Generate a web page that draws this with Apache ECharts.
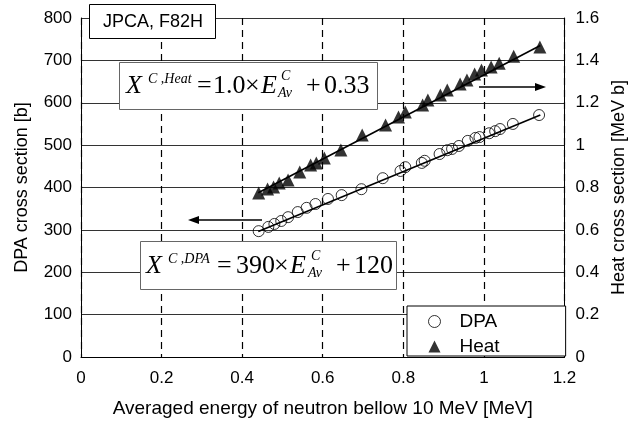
<!DOCTYPE html>
<html>
<head>
<meta charset="utf-8">
<script src="https://cdn.jsdelivr.net/npm/echarts@6/dist/echarts.min.js"></script>
<style>
  html, body { margin: 0; padding: 0; background: #fff; }
  #main { width: 636px; height: 423px; }
</style>
</head>
<body>
<div id="main"></div>
<script>
// values
var dpaEnergy = [0.441, 0.465, 0.480, 0.497, 0.514, 0.538, 0.560, 0.582, 0.613, 0.647, 0.696, 0.749, 0.793, 0.805,
                 0.846, 0.853, 0.890, 0.909, 0.921, 0.938, 0.960, 0.979, 0.989, 1.013, 1.028, 1.040, 1.072, 1.137];
var dpaValues = [297, 307, 314, 321, 330, 342, 352, 361, 373, 382, 396, 422, 439, 448,
                 458, 463, 479, 488, 491, 498, 510, 517, 519, 528, 533, 538, 550, 571];
var heatEnergy = [0.441, 0.463, 0.478, 0.492, 0.514, 0.543, 0.570, 0.584, 0.604, 0.645, 0.698, 0.756, 0.788,
                  0.805, 0.848, 0.861, 0.892, 0.909, 0.941, 0.958, 0.977, 0.994, 1.018, 1.038, 1.074, 1.139];
var heatValues = [0.774, 0.793, 0.802, 0.821, 0.835, 0.873, 0.906, 0.916, 0.939, 0.977, 1.048, 1.095, 1.133,
                  1.156, 1.189, 1.213, 1.236, 1.260, 1.288, 1.307, 1.336, 1.354, 1.369, 1.387, 1.420, 1.463];
// fitted lines (end points)
var dpaFit = [[0.44, 296], [1.14, 571]];
var heatFit = [[0.44, 0.775], [1.14, 1.47]];

var pair = function (xs, ys) {
  return xs.map(function (x, i) { return [x, ys[i]]; });
};

var sans = '"Liberation Sans", Arial, sans-serif';
var serif = '"Liberation Serif", "Times New Roman", serif';

function txt(x, y, s, size, italic) {
  return {
    type: 'text', x: x, y: y, z: 20,
    style: {
      text: s, fill: '#000',
      font: (italic ? 'italic ' : '') + size + 'px ' + serif,
      textAlign: 'left', textVerticalAlign: 'middle', align: 'left', verticalAlign: 'middle'
    }
  };
}

function box(x, y, w, h, stroke) {
  return {
    type: 'rect', z: 15,
    shape: { x: x, y: y, width: w, height: h },
    style: { fill: '#fff', stroke: stroke, lineWidth: 1 }
  };
}

function arrow(x1, x2, y) {
  var dir = x2 > x1 ? 1 : -1;
  return [
    { type: 'line', z: 20, shape: { x1: x1, y1: y, x2: x2 - dir * 8, y2: y }, style: { stroke: '#000', lineWidth: 1.5 } },
    { type: 'polygon', z: 20, shape: { points: [[x2, y], [x2 - dir * 11, y - 4], [x2 - dir * 11, y + 4]] }, style: { fill: '#000' } }
  ];
}

var graphics = [
  box(89.5, 4.5, 126, 34, '#000'),
  {
    type: 'text', x: 153, y: 22, z: 20,
    style: { text: 'JPCA, F82H', fill: '#000', font: '18px ' + sans,
             textAlign: 'center', textVerticalAlign: 'middle', align: 'center', verticalAlign: 'middle' }
  },
  // heat formula
  box(119.5, 62.5, 258, 47, '#666'),
  txt(126, 86, 'X', 26, true),
  txt(148, 79, 'C ,Heat', 14, true),
  txt(197, 86, '=', 26, false),
  txt(213, 86, '1.0', 26, false),
  txt(245, 86, '\u00d7', 26, false),
  txt(261, 86, 'E', 26, true),
  txt(281, 76, 'C', 14, true),
  txt(278, 93, 'Av', 14, true),
  txt(306, 86, '+', 26, false),
  txt(324, 86, '0.33', 26, false),
  // DPA formula
  box(140.5, 241.5, 256, 48, '#666'),
  txt(146, 266, 'X', 26, true),
  txt(168, 259, 'C ,DPA', 14, true),
  txt(217, 266, '=', 26, false),
  txt(236, 266, '390', 26, false),
  txt(274, 266, '\u00d7', 26, false),
  txt(290, 266, 'E', 26, true),
  txt(311, 256, 'C', 14, true),
  txt(308, 273, 'Av', 14, true),
  txt(336, 266, '+', 26, false),
  txt(354, 266, '120', 26, false)
].concat(arrow(262, 188, 220), arrow(479, 546, 87));

var chart = echarts.init(document.getElementById('main'));
chart.setOption({
  animation: false,
  backgroundColor: '#fff',
  textStyle: { fontFamily: sans },
  grid: { left: 81, right: 60, top: 18, bottom: 66 },
  legend: {
    orient: 'vertical', left: 407, top: 306,
    padding: [6, 66, 0, 21], itemGap: 6,
    itemWidth: 12, itemHeight: 12,
    backgroundColor: '#fff', borderColor: '#000', borderWidth: 1,
    textStyle: { fontSize: 19, color: '#000', lineHeight: 18, padding: [0, 0, 0, 14] },
    data: [
      { name: 'DPA', itemStyle: { color: '#fff', borderColor: '#000', borderWidth: 1 } },
      { name: 'Heat' }
    ],
    z: 20
  },
  xAxis: {
    type: 'value', min: 0, max: 1.2, interval: 0.2,
    name: 'Averaged energy of neutron bellow 10 MeV [MeV]',
    nameLocation: 'middle', nameGap: 42,
    nameTextStyle: { fontSize: 19, color: '#000' },
    axisLine: { lineStyle: { color: '#000', width: 1 } },
    axisTick: { show: false },
    axisLabel: { fontSize: 17, color: '#000', margin: 13 },
    splitLine: { show: true, lineStyle: { color: '#000', type: [7, 5], width: 1.2 } }
  },
  yAxis: [
    {
      type: 'value', min: 0, max: 800, interval: 100,
      name: 'DPA cross section [b]',
      nameLocation: 'middle', nameGap: 50,
      nameTextStyle: { fontSize: 18, color: '#000' },
      axisLine: { show: true, lineStyle: { color: '#000', width: 1 } },
      axisTick: { show: false },
      axisLabel: { fontSize: 17, color: '#000', margin: 9 },
      splitLine: { show: true, lineStyle: { color: '#333', width: 1 } }
    },
    {
      type: 'value', min: 0, max: 1.6, interval: 0.2, position: 'right',
      name: 'Heat cross section [MeV b]',
      nameLocation: 'middle', nameGap: 41,
      nameTextStyle: { fontSize: 18, color: '#000' },
      axisLine: { show: true, lineStyle: { color: '#000', width: 1 } },
      axisTick: { show: false },
      axisLabel: { fontSize: 17, color: '#000', margin: 11 },
      splitLine: { show: false }
    }
  ],
  series: [
    {
      name: 'DPA fit', type: 'line', data: dpaFit, symbol: 'none', silent: true,
      lineStyle: { color: '#000', width: 1.6 }, z: 3
    },
    {
      name: 'Heat fit', type: 'line', yAxisIndex: 1, data: heatFit, symbol: 'none', silent: true,
      lineStyle: { color: '#000', width: 1.6 }, z: 3
    },
    {
      name: 'DPA', type: 'scatter', data: pair(dpaEnergy, dpaValues),
      symbol: 'circle', symbolSize: 11,
      itemStyle: { color: 'rgba(255,255,255,0)', borderColor: '#000', borderWidth: 1 }, z: 4
    },
    {
      name: 'Heat', type: 'scatter', yAxisIndex: 1, data: pair(heatEnergy, heatValues),
      symbol: 'triangle', symbolSize: 13,
      itemStyle: { color: '#000' }, z: 4
    }
  ],
  graphic: graphics
});
</script>
</body>
</html>
